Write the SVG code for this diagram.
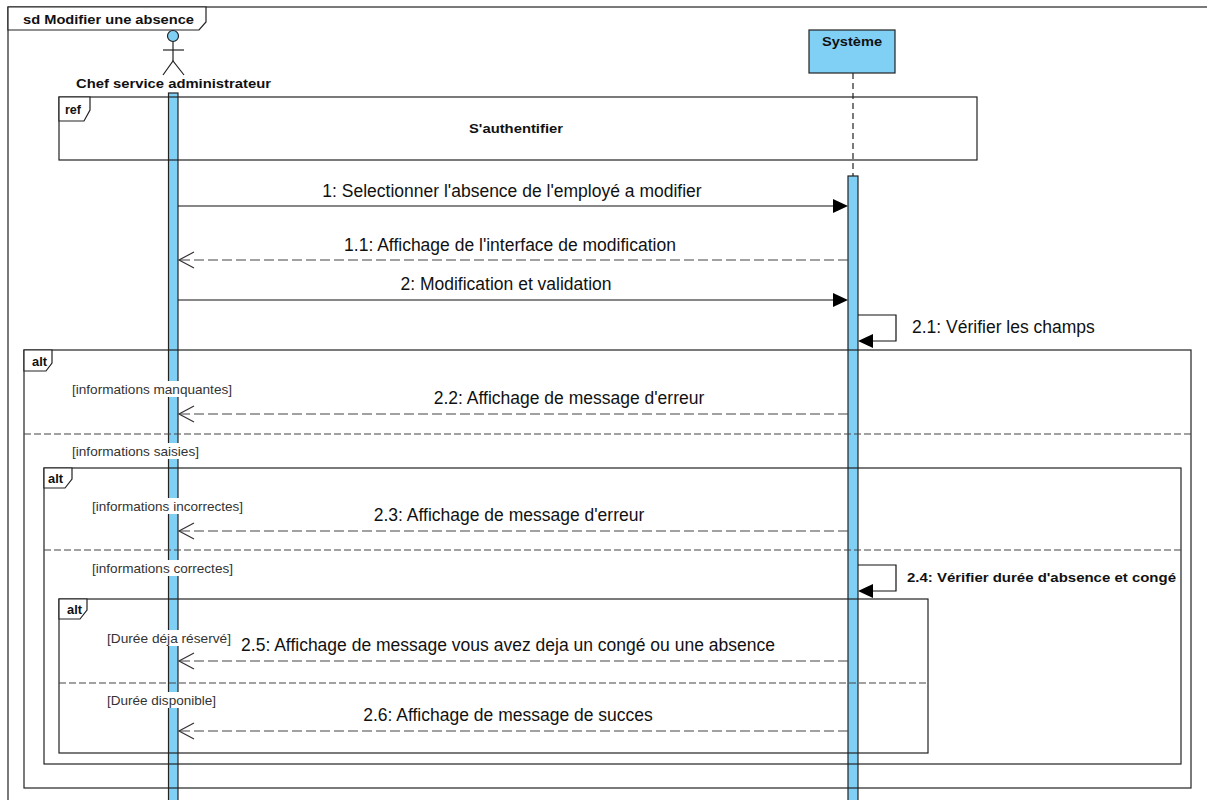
<svg xmlns="http://www.w3.org/2000/svg" width="1207" height="800" viewBox="0 0 1207 800">
<style>
.frame{fill:none;stroke:#222;stroke-width:1.2}
.lab{fill:#fff;stroke:#222;stroke-width:1.2}
.bar{fill:#80cff5;stroke:#222;stroke-width:1.2}
.sep{fill:none;stroke:#444;stroke-width:1.2;stroke-dasharray:7 3}
.msg{fill:none;stroke:#111;stroke-width:1.2}
.ret{fill:none;stroke:#444;stroke-width:1.2;stroke-dasharray:10 4}
.open{fill:none;stroke:#333;stroke-width:1.2}
.head{fill:#000}
.b{font-family:"Liberation Sans",Arial,sans-serif;font-weight:bold;font-size:13px;fill:#111}
.m{font-family:"Liberation Sans",Arial,sans-serif;font-size:17.5px;fill:#111;text-anchor:middle}
.g{font-family:"Liberation Sans",Arial,sans-serif;font-size:13.5px;fill:#333}
</style>
<rect width="1207" height="800" fill="#fff"/>

<g id="diagram-frame">
<rect class="frame" x="8" y="7" width="1220" height="820"/>
<polygon class="lab" points="8,7 206,7 206,22 199,30 8,30"/>
<text class="b" x="23" y="24" textLength="171" lengthAdjust="spacingAndGlyphs">sd Modifier une absence</text>
</g>

<g id="actor-chef">
<circle cx="173" cy="36" r="5.5" fill="#80cff5" stroke="#222" stroke-width="1.2"/>
<line x1="173" y1="41.5" x2="173" y2="61" stroke="#222" stroke-width="1.2"/>
<line x1="163" y1="50" x2="184" y2="50" stroke="#222" stroke-width="1.2"/>
<polyline points="163,75 173,61 184,75" fill="none" stroke="#222" stroke-width="1.2"/>
<text class="b" x="76" y="88" textLength="195" lengthAdjust="spacingAndGlyphs">Chef service administrateur</text>
<rect class="bar" x="168.5" y="93" width="9.5" height="720"/>
</g>

<g id="lifeline-systeme">
<rect x="809" y="30" width="86" height="43" fill="#80cff5" stroke="#222" stroke-width="1.2"/>
<text class="b" x="822" y="46" textLength="60" lengthAdjust="spacingAndGlyphs">Système</text>
<line x1="853" y1="73" x2="853" y2="176" stroke="#222" stroke-width="1.2" stroke-dasharray="6 4"/>
<rect class="bar" x="848" y="176" width="10" height="640"/>
</g>

<g id="ref-authentifier">
<rect class="frame" x="59" y="97" width="918" height="63"/>
<polygon class="lab" points="59,97 90,97 90,110 84,121 59,121"/>
<text class="b" x="65" y="114" textLength="16" lengthAdjust="spacingAndGlyphs">ref</text>
<text class="b" x="469" y="133" textLength="94" lengthAdjust="spacingAndGlyphs">S'authentifier</text>
</g>

<g id="alt-outer">
<rect class="frame" x="24" y="350" width="1167" height="438"/>
<polygon class="lab" points="24,350 52,350 52,363 46,371 24,371"/>
<text class="b" x="32" y="366" textLength="15" lengthAdjust="spacingAndGlyphs">alt</text>
<line class="sep" x1="24" y1="434" x2="1191" y2="434"/>
</g>

<g id="alt-inner">
<rect class="frame" x="44" y="468" width="1137" height="296"/>
<polygon class="lab" points="44,468 72,468 72,479 65,488 44,488"/>
<text class="b" x="48" y="483" textLength="15" lengthAdjust="spacingAndGlyphs">alt</text>
<line class="sep" x1="44" y1="550" x2="1181" y2="550"/>
</g>

<g id="alt-duree">
<rect class="frame" x="59" y="599" width="869" height="154"/>
<polygon class="lab" points="59,599 87,599 87,610 80,619 59,619"/>
<text class="b" x="67" y="614" textLength="15" lengthAdjust="spacingAndGlyphs">alt</text>
<line class="sep" x1="59" y1="683" x2="928" y2="683"/>
</g>

<g id="guards">
<rect x="71" y="381" width="163" height="16" fill="#fff"/>
<text class="g" x="72" y="394" textLength="160" lengthAdjust="spacingAndGlyphs">[informations manquantes]</text>
<rect x="71" y="443" width="130" height="16" fill="#fff"/>
<text class="g" x="72" y="456" textLength="127" lengthAdjust="spacingAndGlyphs">[informations saisies]</text>
<rect x="91" y="498" width="154" height="16" fill="#fff"/>
<text class="g" x="92" y="511" textLength="151" lengthAdjust="spacingAndGlyphs">[informations incorrectes]</text>
<rect x="91" y="560" width="144" height="16" fill="#fff"/>
<text class="g" x="92" y="573" textLength="141" lengthAdjust="spacingAndGlyphs">[informations correctes]</text>
<rect x="106" y="630" width="127" height="16" fill="#fff"/>
<text class="g" x="107" y="643" textLength="124" lengthAdjust="spacingAndGlyphs">[Durée déja réservé]</text>
<rect x="106" y="692" width="112" height="16" fill="#fff"/>
<text class="g" x="107" y="705" textLength="109" lengthAdjust="spacingAndGlyphs">[Durée disponible]</text>
</g>

<g id="connectors">
<line class="msg" x1="178" y1="206" x2="834" y2="206"/>
<polygon class="head" points="848,206 833,199 833,213"/>
<text class="m" x="512" y="197">1: Selectionner l'absence de l'employé a modifier</text>

<line class="ret" x1="848" y1="260" x2="179" y2="260"/>
<polyline class="open" points="194,252 179,260 194,268"/>
<text class="m" x="510" y="251">1.1: Affichage de l'interface de modification</text>

<line class="msg" x1="178" y1="300" x2="834" y2="300"/>
<polygon class="head" points="848,300 833,293 833,307"/>
<text class="m" x="506" y="290">2: Modification et validation</text>

<polyline class="msg" points="858,315 896,315 896,341 872,341"/>
<polygon class="head" points="858,341 873,334 873,348"/>
<text class="m" x="912" y="333" style="text-anchor:start">2.1: Vérifier les champs</text>

<line class="ret" x1="848" y1="414" x2="179" y2="414"/>
<polyline class="open" points="194,406 179,414 194,422"/>
<text class="m" x="569" y="404">2.2: Affichage de message d'erreur</text>

<line class="ret" x1="848" y1="531" x2="179" y2="531"/>
<polyline class="open" points="194,523 179,531 194,539"/>
<text class="m" x="509" y="521">2.3: Affichage de message d'erreur</text>

<polyline class="msg" points="858,565 896,565 896,591 872,591"/>
<polygon class="head" points="858,591 873,584 873,598"/>
<rect x="904" y="566" width="274" height="22" fill="#fff"/>
<text class="b" x="907" y="582" textLength="269" lengthAdjust="spacingAndGlyphs">2.4: Vérifier durée d'absence et congé</text>

<line class="ret" x1="848" y1="661" x2="179" y2="661"/>
<polyline class="open" points="194,653 179,661 194,669"/>
<text class="m" x="508" y="651">2.5: Affichage de message vous avez deja un congé ou une absence</text>

<line class="ret" x1="848" y1="731" x2="179" y2="731"/>
<polyline class="open" points="194,723 179,731 194,739"/>
<text class="m" x="508" y="721">2.6: Affichage de message de succes</text>
</g>
</svg>
